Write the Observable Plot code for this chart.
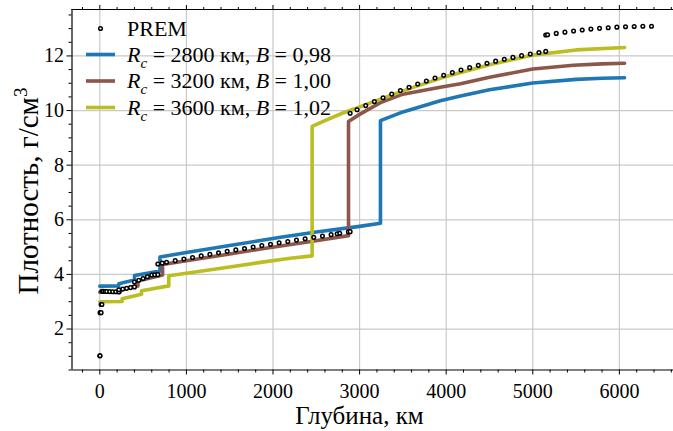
<!DOCTYPE html>
<html>
<head>
<meta charset="utf-8">
<script src="https://cdn.jsdelivr.net/npm/d3@7"></script>
<script src="https://cdn.jsdelivr.net/npm/@observablehq/plot@0.6"></script>
<style>
  html, body { margin: 0; padding: 0; background: #fff; }
  #chart svg { display: block; }
</style>
</head>
<body>
<div id="chart"></div>
<script>
// ---------- data ----------
const premDepth = [0, 3, 3, 15, 15, 24.4, 24.4, 40, 60, 80, 115, 150, 185, 220, 220, 265, 310, 355, 400, 400,
  450, 500, 550, 600, 635, 670, 670, 721, 771, 871, 971, 1071, 1171, 1271, 1371, 1471, 1571, 1671, 1771,
  1871, 1971, 2071, 2171, 2271, 2371, 2471, 2571, 2671, 2741, 2771, 2871, 2891, 2891, 2971, 3071, 3171,
  3271, 3371, 3471, 3571, 3671, 3771, 3871, 3971, 4071, 4171, 4271, 4371, 4471, 4571, 4671, 4771, 4871,
  4971, 5071, 5149.5, 5149.5, 5171, 5271, 5371, 5471, 5571, 5671, 5771, 5871, 5971, 6071, 6171, 6271, 6371];
const premDensity = [1.02, 1.02, 2.6, 2.6, 2.9, 2.9, 3.3807, 3.3791, 3.3769, 3.3747, 3.3709, 3.3671, 3.3633, 3.3595, 3.4358, 3.4626, 3.4895, 3.5164, 3.5433, 3.7237,
  3.7868, 3.8498, 3.9128, 3.9758, 3.9840, 3.9921, 4.3807, 4.4124, 4.4432, 4.5037, 4.5631, 4.6213, 4.6785, 4.7346, 4.7898, 4.8442, 4.8979, 4.9507, 5.0030,
  5.0547, 5.1059, 5.1567, 5.2071, 5.2573, 5.3073, 5.3571, 5.4068, 5.4566, 5.4915, 5.5064, 5.5564, 5.5666, 9.9034, 10.0294, 10.1814, 10.3273,
  10.4673, 10.6015, 10.7301, 10.8532, 10.9709, 11.0834, 11.1907, 11.2930, 11.3904, 11.4831, 11.5712, 11.6548, 11.7340, 11.8090, 11.8799, 11.9468, 12.0099,
  12.0692, 12.1250, 12.1663, 12.7636, 12.7749, 12.8250, 12.8708, 12.9121, 12.9491, 12.9818, 13.0101, 13.0341, 13.0537, 13.0689, 13.0798, 13.0863, 13.0885];

// R_c = 2800 km, B = 0.98
const blueDepth   = [0, 220, 220, 401, 401, 695, 695, 1000, 1500, 1856, 2087, 2500, 3000, 3241, 3241, 3500, 3932, 4166, 4500, 5000, 5500, 5800, 6060];
const blueDensity = [3.57, 3.58, 3.66, 3.80, 3.96, 4.12, 4.64, 4.80, 5.06, 5.24, 5.36, 5.55, 5.76, 5.87, 9.63, 9.95, 10.36, 10.53, 10.76, 11.01, 11.14, 11.18, 11.20];
// R_c = 3200 km, B = 1.00
const brownDepth   = [0, 239, 239, 440, 440, 725, 725, 1000, 1500, 1856, 2400, 2872, 2872, 3000, 3241, 3500, 3932, 4166, 4500, 5000, 5470, 5800, 6060];
const brownDensity = [3.35, 3.36, 3.45, 3.58, 3.76, 3.98, 4.36, 4.50, 4.75, 4.93, 5.19, 5.42, 9.60, 9.86, 10.29, 10.60, 10.85, 10.98, 11.22, 11.52, 11.66, 11.71, 11.73];
// R_c = 3600 km, B = 1.02
const greenDepth   = [0, 258, 258, 482, 482, 797, 797, 1000, 1500, 1856, 2200, 2452, 2452, 2600, 2800, 3000, 3241, 3600, 4000, 4500, 5000, 5500, 6060];
const greenDensity = [3.00, 3.01, 3.11, 3.27, 3.40, 3.58, 3.95, 4.04, 4.27, 4.44, 4.59, 4.68, 9.42, 9.63, 9.90, 10.13, 10.42, 10.83, 11.25, 11.68, 12.03, 12.22, 12.31];

const modelColors = ["#1f77b4", "#8c564b", "#bcbd22"];
const modelRc = ["2800", "3200", "3600"];
const modelB = ["0,98", "1,00", "1,02"];

const xMajor = [0, 1000, 2000, 3000, 4000, 5000, 6000];
const yMajor = [2, 4, 6, 8, 10, 12];
const xMinor = d3.range(-200, 6700, 200).filter(v => v % 1000 !== 0);
const yMinor = d3.range(0.5, 13.7, 0.5).filter(v => v % 2 !== 0);
const xDomain = [-321, 6700];
const yDomain = [0.5, 13.7];

const xLabel = "Глубина, км";
const yLabel = "Плотность, г/см";

// ---------- build ----------
const toRows = (xs, ys) => xs.map((d, i) => ({depth: d, rho: ys[i]}));
const FONT = "Liberation Serif";
const gridStyle = {stroke: "#c9c9c9", strokeOpacity: 1, strokeWidth: 1.2};
const empty = () => "";

const chart = Plot.plot({
  width: 673,
  height: 431,
  marginLeft: 71.5,
  marginRight: 0,
  marginTop: 9,
  marginBottom: 61.5,
  x: {domain: xDomain, range: [71.5, 679.5]},
  y: {domain: yDomain, range: [369.5, 9]},
  style: {fontFamily: FONT, background: "white", color: "black"},
  marks: [
    Plot.gridX(xMajor, gridStyle),
    Plot.gridY(yMajor, gridStyle),
    Plot.line(toRows(blueDepth, blueDensity), {x: "depth", y: "rho", stroke: modelColors[0], strokeWidth: 3.6}),
    Plot.line(toRows(brownDepth, brownDensity), {x: "depth", y: "rho", stroke: modelColors[1], strokeWidth: 3.6}),
    Plot.line(toRows(greenDepth, greenDensity), {x: "depth", y: "rho", stroke: modelColors[2], strokeWidth: 3.6}),
    Plot.dot(toRows(premDepth, premDensity), {x: "depth", y: "rho", r: 1.8, fill: "white", stroke: "black", strokeWidth: 1.5}),
    Plot.ruleX([xDomain[0]], {stroke: "black", strokeWidth: 1.2}),
    Plot.ruleY([yDomain[0]], {stroke: "black", strokeWidth: 1.2}),
    Plot.ruleY([yDomain[1]], {stroke: "black", strokeWidth: 1.2}),
    Plot.axisX(xMajor, {anchor: "bottom", tickSize: 5, tickPadding: 9, fontSize: 20, label: null, tickFormat: d => String(d)}),
    Plot.axisX(xMinor, {anchor: "bottom", tickSize: 3, label: null, tickFormat: empty}),
    Plot.axisX(xMajor, {anchor: "top", tickSize: 5, label: null, tickFormat: empty}),
    Plot.axisX(xMinor, {anchor: "top", tickSize: 3, label: null, tickFormat: empty}),
    Plot.axisY(yMajor, {anchor: "left", tickSize: 5, tickPadding: 3, fontSize: 20, label: null}),
    Plot.axisY(yMinor, {anchor: "left", tickSize: 3, label: null, tickFormat: empty})
  ]
});

document.getElementById("chart").appendChild(chart);

// ---------- titles & legend ----------
const svg = d3.select(chart);

svg.append("text")
  .attr("x", 359.5).attr("y", 423.5)
  .attr("text-anchor", "middle")
  .attr("font-family", FONT).attr("font-size", 25).attr("fill", "black")
  .text(xLabel);

const yt = svg.append("text")
  .attr("transform", "translate(38,191) rotate(-90)")
  .attr("text-anchor", "middle")
  .attr("font-family", FONT).attr("font-size", 29).attr("fill", "black");
yt.append("tspan").text(yLabel);
yt.append("tspan").attr("dy", -11).attr("font-size", 19).text("3");

const leg = svg.append("g")
  .attr("font-family", FONT).attr("font-size", 22).attr("fill", "black")
  .attr("text-anchor", "start");
const rowY = [28.5, 54.5, 81, 107.5];
leg.append("circle").attr("cx", 100.5).attr("cy", rowY[0]).attr("r", 1.8)
  .attr("fill", "white").attr("stroke", "black").attr("stroke-width", 1.5);
leg.append("text").attr("x", 127).attr("y", rowY[0] + 7).attr("text-anchor", "start").text("PREM");
modelRc.forEach((rc, i) => {
  const cy = rowY[i + 1];
  leg.append("line").attr("x1", 86).attr("x2", 115).attr("y1", cy).attr("y2", cy)
    .attr("stroke", modelColors[i]).attr("stroke-width", 3.6);
  const t = leg.append("text").attr("x", 127).attr("y", cy + 7).attr("text-anchor", "start");
  t.append("tspan").attr("font-style", "italic").text("R");
  t.append("tspan").attr("font-style", "italic").attr("font-size", 15).attr("dy", 6).text("c");
  t.append("tspan").attr("dy", -6).text(` = ${rc} км, `);
  t.append("tspan").attr("font-style", "italic").text("B");
  t.append("tspan").text(` = ${modelB[i]}`);
});
</script>
</body>
</html>
